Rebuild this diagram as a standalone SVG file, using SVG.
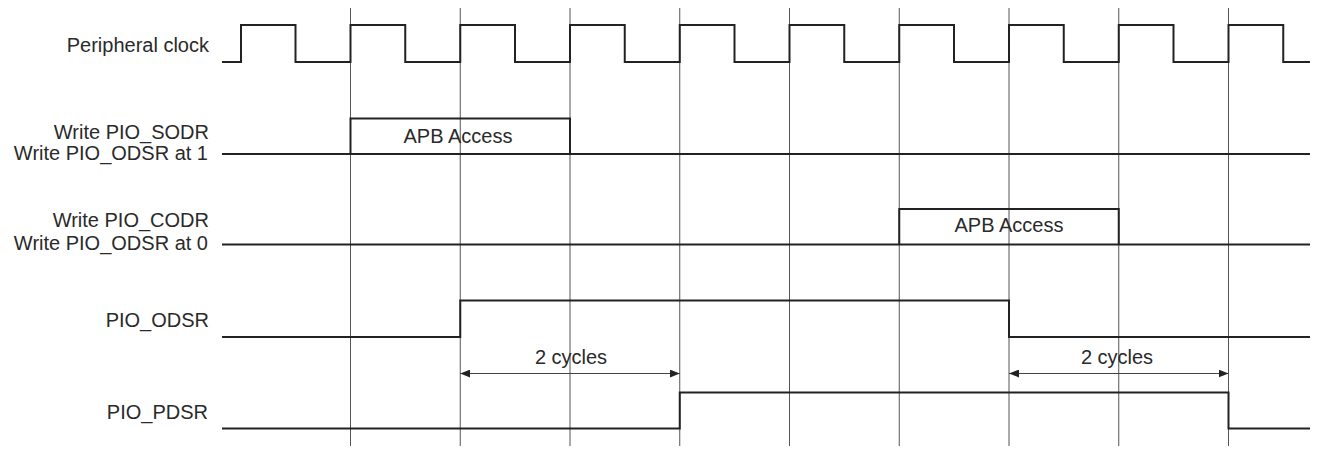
<svg xmlns="http://www.w3.org/2000/svg" width="1323" height="454" viewBox="0 0 1323 454">
<style>
text{font-family:"Liberation Sans",Arial,sans-serif;font-size:20px;fill:#2a2a2a}
.lbl{text-anchor:end}
.mid{text-anchor:middle}
.sig{fill:none;stroke:#222;stroke-width:2;stroke-linejoin:miter}
.grid{stroke:#555;stroke-width:1}
.dim{stroke:#444;stroke-width:1;fill:none}
</style>
<defs>
<marker id="ah" viewBox="0 0 10 8" refX="10" refY="4" markerWidth="10" markerHeight="8" markerUnits="userSpaceOnUse" orient="auto-start-reverse">
<path d="M0,0 L10,4 L0,8 Z" fill="#222"/>
</marker>
</defs>
<rect width="1323" height="454" fill="#fff"/>
<g id="grid">
<line class="grid" x1="350.5" y1="8" x2="350.5" y2="446"/>
<line class="grid" x1="460.25" y1="8" x2="460.25" y2="446"/>
<line class="grid" x1="570" y1="8" x2="570" y2="446"/>
<line class="grid" x1="679.75" y1="8" x2="679.75" y2="446"/>
<line class="grid" x1="789.5" y1="8" x2="789.5" y2="446"/>
<line class="grid" x1="899.25" y1="8" x2="899.25" y2="446"/>
<line class="grid" x1="1009" y1="8" x2="1009" y2="446"/>
<line class="grid" x1="1118.75" y1="8" x2="1118.75" y2="446"/>
<line class="grid" x1="1228.5" y1="8" x2="1228.5" y2="446"/>
</g>
<g id="clock">
<text class="lbl" x="209" y="51.5">Peripheral clock</text>
<path class="sig" d="M222,62 H241 V25 H295.5 V62 H350.5 V25 H405.25 V62 H460.25 V25 H515 V62 H570 V25 H624.75 V62 H679.75 V25 H734.5 V62 H789.5 V25 H844.25 V62 H899.25 V25 H954 V62 H1009 V25 H1063.75 V62 H1118.75 V25 H1173.5 V62 H1228.5 V25 H1283.25 V62 H1310"/>
</g>
<g id="sodr">
<text class="lbl" x="209" y="138.5">Write PIO_SODR</text>
<text class="lbl" x="208" y="159.5">Write PIO_ODSR at 1</text>
<path class="sig" d="M222,154 H1310"/>
<path class="sig" d="M350.5,154 V118.5 H570 V154"/>
<text class="mid" x="458" y="143">APB Access</text>
</g>
<g id="codr">
<text class="lbl" x="209" y="227">Write PIO_CODR</text>
<text class="lbl" x="208" y="249.5">Write PIO_ODSR at 0</text>
<path class="sig" d="M222,244.5 H1310"/>
<path class="sig" d="M899.25,244.5 V209 H1118.75 V244.5"/>
<text class="mid" x="1009" y="231.5">APB Access</text>
</g>
<g id="odsr">
<text class="lbl" x="209" y="327">PIO_ODSR</text>
<path class="sig" d="M222,337 H460.25 V300.5 H1009 V337 H1310"/>
</g>
<g id="pdsr">
<text class="lbl" x="208" y="418.5">PIO_PDSR</text>
<path class="sig" d="M222,428.5 H679.75 V392.5 H1228.5 V428.5 H1310"/>
</g>
<g id="connectors">
<line class="dim" x1="460.25" y1="373.5" x2="679.75" y2="373.5" marker-start="url(#ah)" marker-end="url(#ah)"/>
<line class="dim" x1="1009" y1="373.5" x2="1228.5" y2="373.5" marker-start="url(#ah)" marker-end="url(#ah)"/>
<text class="mid" x="571" y="364">2 cycles</text>
<text class="mid" x="1117" y="363.5">2 cycles</text>
</g>
</svg>
